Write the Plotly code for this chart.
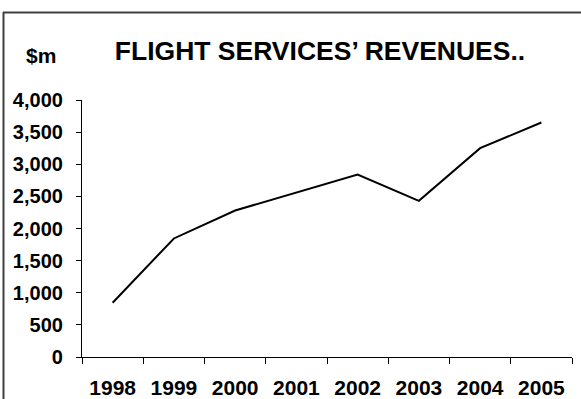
import plotly.graph_objects as go

years = ["1998", "1999", "2000", "2001", "2002", "2003", "2004", "2005"]
revenues = [845, 1845, 2280, 2560, 2840, 2430, 3250, 3650]
y_ticks = [0, 500, 1000, 1500, 2000, 2500, 3000, 3500, 4000]

W, H = 581, 399
ML, MR, MT, MB = 82, 9, 100, 42
PW, PH = W - ML - MR, H - MT - MB

def px_x(px):
    return (px - ML) / PW

def px_y(py):
    return (H - MB - py) / PH

FONT = "Liberation Sans, Arial, sans-serif"

fig = go.Figure(
    go.Scatter(
        x=years, y=revenues, mode="lines",
        line=dict(color="black", width=2),
        hoverinfo="skip",
    )
)

fig.update_layout(
    width=W, height=H,
    margin=dict(l=ML, r=MR, t=MT, b=MB, autoexpand=False),
    paper_bgcolor="white", plot_bgcolor="white",
    showlegend=False,
    font=dict(family=FONT, color="black"),
    title=dict(
        text="<b>FLIGHT SERVICES’ REVENUES..</b>",
        x=320 / W, xanchor="center", xref="container",
        y=1 - 51 / H, yanchor="middle", yref="container",
        font=dict(family=FONT, size=26.5, color="black"),
    ),
    annotations=[
        dict(
            text="<b>$m</b>", xref="paper", yref="paper",
            x=px_x(41), y=px_y(56), xanchor="center", yanchor="middle",
            showarrow=False, font=dict(family=FONT, size=21, color="black"),
        )
    ],
    shapes=[
        dict(type="line", xref="paper", yref="paper",
             x0=px_x(3), x1=px_x(581), y0=px_y(12.5), y1=px_y(12.5),
             line=dict(color="#404040", width=2)),
        dict(type="line", xref="paper", yref="paper",
             x0=px_x(3.5), x1=px_x(3.5), y0=px_y(12), y1=px_y(399),
             line=dict(color="#404040", width=2)),
    ],
)

fig.update_xaxes(
    type="category", range=[-0.5, len(years) - 0.5], automargin=False,
    tickmode="array", tickvals=years, ticktext=[f"<b>{y}</b>" for y in years],
    tickson="boundaries", ticks="outside", ticklen=6, tickcolor="black", tickwidth=1,
    showline=True, linecolor="black", linewidth=1.2, showgrid=False, zeroline=False,
    tickfont=dict(family=FONT, size=21, color="black"),
    ticklabelstandoff=12,
)

fig.update_yaxes(
    range=[0, 4000], automargin=False, tickmode="array", tickvals=y_ticks,
    ticktext=[f"<b>{v:,}</b>" for v in y_ticks],
    ticks="outside", ticklen=5, tickcolor="black", tickwidth=1,
    showline=True, linecolor="black", linewidth=1.2, showgrid=False, zeroline=False,
    tickfont=dict(family=FONT, size=20, color="black"),
    ticklabelstandoff=9,
)

fig.write_html("out.html")
